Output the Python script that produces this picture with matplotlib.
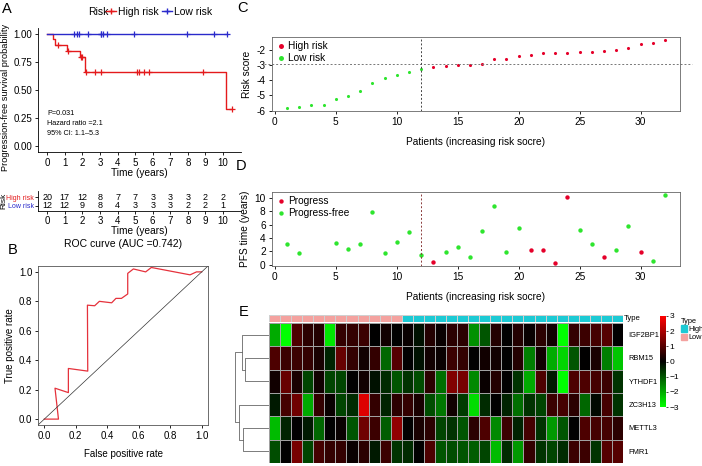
import numpy as np
import matplotlib
matplotlib.use('Agg')
import matplotlib.pyplot as plt
from matplotlib.colors import LinearSegmentedColormap, ListedColormap
from matplotlib.lines import Line2D
from matplotlib.patches import Patch

plt.rcParams['font.family'] = ['Liberation Sans', 'DejaVu Sans']
plt.rcParams['axes.linewidth'] = 0.6

W, H = 702, 466

# ---- data ----
patients = np.arange(1, 33)
n_low = 12
risk_score = [-5.80, -5.78, -5.62, -5.60, -5.25, -5.03, -4.68, -4.21, -3.82, -3.67, -3.49, -3.27,
              -3.16, -3.05, -3.01, -2.99, -2.94, -2.61, -2.61, -2.41, -2.35, -2.22, -2.22, -2.18,
              -2.15, -2.15, -2.07, -2.04, -1.91, -1.61, -1.58, -1.34]
risk_cut = -2.96
pfs_time = [3.05, 1.80, 9.50, 10.25, 3.20, 2.30, 3.05, 7.95, 1.70, 3.40, 4.95, 1.50,
            0.45, 1.95, 2.70, 1.20, 5.10, 8.85, 1.90, 5.50, 2.15, 2.15, 0.30, 10.20,
            5.20, 3.05, 1.15, 2.20, 5.80, 1.85, 0.60, 10.50]
status = [0, 0, 0, 0, 0, 0, 0, 0, 0, 0, 0, 0,
          1, 0, 0, 0, 0, 0, 0, 0, 1, 1, 1, 1,
          0, 0, 1, 0, 0, 1, 0, 0]

time_ticks = list(range(11))
at_risk_high = [20, 17, 12, 8, 7, 7, 3, 3, 3, 2, 2]
at_risk_low = [12, 12, 9, 8, 4, 3, 3, 3, 2, 2, 1]

roc_fpr = [0.0, 0.09, 0.068, 0.153, 0.153, 0.276, 0.274, 0.32, 0.35, 0.428, 0.455, 0.49,
           0.53, 0.53, 0.566, 0.644, 0.68, 0.926, 0.967, 1.0]
roc_tpr = [0.0, 0.0, 0.21, 0.18, 0.344, 0.326, 0.774, 0.77, 0.80, 0.79, 0.82, 0.82,
           0.85, 0.99, 1.02, 1.0, 1.03, 0.98, 1.0, 1.0]

genes = ['IGF2BP1', 'RBM15', 'YTHDF1', 'ZC3H13', 'METTL3', 'FMR1']
expr = [
    [-2.0, -3.0, 0.9, 0.5, 0.4, -2.7, 0.6, 0.6, 0.7, 0.0, 0.2, 0.0, 0.1, -0.2, 0.4, 0.1,
     0.5, 0.5, -1.7, -1.0, 0.4, 0.0, 0.4, 0.1, 0.5, 0.2, -3.0, 0.6, 0.7, 0.8, 1.0, 0.0],
    [0.9, 0.7, 0.7, 0.6, 0.3, -0.4, 1.2, 0.6, 0.2, 0.6, -1.2, 1.0, 0.0, -0.2, 0.2, 0.1,
     0.7, 0.6, 0.0, 0.2, 0.2, 0.0, 0.4, -1.5, 0.2, -2.0, -2.5, -1.0, 0.0, 0.3, -1.5, -2.3],
    [0.2, 1.2, 0.3, -0.8, 0.2, -0.8, -0.8, 0.0, 0.2, -0.2, -0.5, -1.0, -0.6, -0.9, 0.5, -1.3,
     1.5, 1.4, -1.6, 0.1, 0.4, 0.0, -0.6, -2.0, 0.9, -0.3, -3.0, 0.9, 0.9, 0.8, 0.7, -0.6],
    [-0.3, 0.8, 1.3, -2.0, 0.6, 0.1, -0.8, -0.5, 2.6, 0.6, -0.4, 0.5, 0.6, 0.3, -0.9, -1.4,
     0.2, -0.7, -2.6, -0.5, 0.0, -0.4, -1.3, -0.6, -0.8, 0.7, 0.8, 0.5, -1.2, -0.1, 0.8, -0.6],
    [-2.2, -0.4, 0.0, -0.3, -1.2, 0.0, 0.1, -1.0, 1.3, 0.7, -1.1, 1.7, 0.0, 0.3, 0.5, -0.8,
     -0.6, -1.0, 0.5, 0.9, -1.6, 0.7, -0.4, 0.8, -0.6, -1.8, -1.0, 0.0, 0.9, 0.8, 0.8, 0.5],
    [-0.9, 0.0, 1.4, -0.8, 0.8, 0.6, 0.6, 0.1, 0.5, -0.3, 0.7, -0.6, -0.5, 0.0, 0.9, -1.0,
     -0.9, -1.0, -1.1, -0.8, -2.2, -0.5, -1.8, 0.6, -0.6, -0.8, -0.5, 0.7, 0.7, -0.6, 1.0, 1.0],
]
# row dendrogram merges (left id, right id, height); new ids start at 6
row_links = [(1, 2, 2.3), (0, 6, 2.6), (4, 5, 2.55), (3, 8, 2.9), (7, 9, 3.35)]

red = '#E41A1C'
blue = '#2A2ACB'
pt_red = '#E5002A'
pt_green = '#2EE52E'
pink = '#F4A29F'
cyan = '#1CCAD4'

fig = plt.figure(figsize=(W / 100, H / 100), dpi=100)


def px_axes(l, t, r, b):
    return fig.add_axes([l / W, 1 - b / H, (r - l) / W, (b - t) / H])


def fy(y):
    return 1 - y / H


def km(times, events):
    times = np.asarray(times)
    events = np.asarray(events)
    ev_times = np.unique(times[events == 1])
    xs, ys, s = [0.0], [1.0], 1.0
    for u in ev_times:
        n = np.sum(times >= u)
        d = np.sum((times == u) & (events == 1))
        s *= 1 - d / n
        xs.append(u)
        ys.append(s)
    xs.append(times.max())
    ys.append(s)
    cens = times[events == 0]
    cens_s = [np.prod([1 - np.sum((times == u) & (events == 1)) / np.sum(times >= u)
                       for u in ev_times if u <= c]) for c in cens]
    return xs, ys, cens, cens_s


t_arr = np.array(pfs_time)
e_arr = np.array(status)
grp_low = np.arange(32) < n_low

# ---- A: Kaplan-Meier ----
axA = px_axes(38, 28, 241, 152)
for mask, col in [(~grp_low, red), (grp_low, blue)]:
    xs, ys, cx, cy = km(t_arr[mask], e_arr[mask])
    axA.step(xs, ys, where='post', color=col, lw=1.0)
    axA.plot(cx, cy, ls='none', marker='+', ms=4.5, mew=0.9, color=col)
axA.set_xlim(-0.525, 11.025)
axA.set_ylim(-0.05, 1.05)
axA.set_xticks(time_ticks)
axA.set_yticks([0, 0.25, 0.5, 0.75, 1.0])
axA.set_yticklabels(['0.00', '0.25', '0.50', '0.75', '1.00'])
axA.tick_params(labelsize=7, length=2.5, width=0.6, pad=1.5)
for sp in ['top', 'right']:
    axA.spines[sp].set_visible(False)
axA.set_xlabel('Time (years)', fontsize=7.3, labelpad=0)
fig.text(6 / W, fy(97), 'Progression-free survival probability', rotation=90,
         ha='center', va='center', fontsize=6.6)
axA.text(0, 0.29, 'P=0.031', fontsize=5.2, va='center')
axA.text(0, 0.2, 'Hazard ratio =2.1', fontsize=5.2, va='center')
axA.text(0, 0.11, '95% CI: 1.1\u20135.3', fontsize=5.2, va='center')
fig.text(88 / W, fy(12), 'Risk', fontsize=7.5, va='center')
handles = [Line2D([], [], color=red, lw=1, marker='+', ms=5),
           Line2D([], [], color=blue, lw=1, marker='+', ms=5)]
fig.legend(handles, ['High risk', 'Low risk'], ncol=2, loc='center left',
           bbox_to_anchor=(106 / W, fy(12)), frameon=False, fontsize=7.5,
           handlelength=1.0, handletextpad=0.15, columnspacing=0.3,
           borderpad=0, borderaxespad=0)

# risk table
axT = px_axes(38, 190.7, 241, 210.5)
for i, t in enumerate(time_ticks):
    axT.text(t, 1, str(at_risk_high[i]), ha='center', va='center', fontsize=6.5)
    axT.text(t, 0, str(at_risk_low[i]), ha='center', va='center', fontsize=6.5)
axT.set_xlim(-0.525, 11.025)
axT.set_ylim(-0.5, 1.7)
axT.set_xticks(time_ticks)
axT.set_yticks([1, 0])
axT.set_yticklabels(['High risk', 'Low risk'])
axT.get_yticklabels()[0].set_color(red)
axT.get_yticklabels()[1].set_color(blue)
axT.tick_params(axis='y', labelsize=5, length=2, width=0.6, pad=1)
axT.tick_params(axis='x', labelsize=7, length=2.5, width=0.6, pad=1.5)
for sp in ['top', 'right']:
    axT.spines[sp].set_visible(False)
axT.set_xlabel('Time (years)', fontsize=7.3, labelpad=0)
fig.text(4 / W, fy(201), 'Risk', rotation=90, ha='center', va='center', fontsize=6)

# ---- B: ROC ----
axB = px_axes(38, 266, 208, 425)
axB.plot(roc_fpr, roc_tpr, color='#E5323C', lw=0.9)
axB.axline((0, 0), (1, 1), color='#333333', lw=0.5)
axB.set_xlim(-0.04, 1.04)
axB.set_ylim(-0.04, 1.04)
axB.set_xticks([0, 0.2, 0.4, 0.6, 0.8, 1.0])
axB.set_yticks([0, 0.2, 0.4, 0.6, 0.8, 1.0])
axB.tick_params(labelsize=7, length=2.5, width=0.6, pad=1.5)
for sp in axB.spines.values():
    sp.set_color('#555555')
axB.set_title('ROC curve (AUC =0.742)', fontsize=7.5, pad=14)
axB.set_xlabel('False positive rate', fontsize=7, labelpad=6)
axB.set_ylabel('True positive rate', fontsize=7, labelpad=3)

# ---- C: risk score ----
axC = px_axes(272, 37, 680, 111)
axC.scatter(patients[grp_low], np.array(risk_score)[grp_low], s=5, color=pt_green, lw=0, label='Low risk')
axC.scatter(patients[~grp_low], np.array(risk_score)[~grp_low], s=5, color=pt_red, lw=0, label='High risk')
axC.axhline(risk_cut, xmin=-0.02, xmax=1.03, color='#777777', lw=0.7, ls=(0, (2, 2)), clip_on=False)
axC.axvline(n_low, color='#444444', lw=0.7, ls=(0, (2, 2)))
axC.set_xlim(-0.24, 33.24)
axC.set_ylim(-6.02, -1.16)
axC.set_xticks([0, 5, 10, 15, 20, 25, 30])
axC.set_yticks([-6, -5, -4, -3, -2])
axC.set_yticklabels(['-6', '-5', '-4', '-3', '-2'])
axC.tick_params(labelsize=7.3, length=2.5, width=0.6, pad=2)
for sp in axC.spines.values():
    sp.set_color('#666666')
axC.set_ylabel('Risk score', fontsize=7.3, labelpad=3)
axC.set_xlabel('Patients (increasing risk socre)', fontsize=7.3, labelpad=7)
h, l = axC.get_legend_handles_labels()
axC.legend(h[::-1], l[::-1], loc='upper left', frameon=False, fontsize=7.3,
           handletextpad=0.2, borderpad=0.3, labelspacing=0.15, handlelength=1.0,
           markerscale=1.6, borderaxespad=0.1)

# ---- D: PFS time ----
axD = px_axes(272, 192, 680, 266)
ev = e_arr == 1
axD.scatter(patients[ev], t_arr[ev], s=10, color=pt_red, lw=0, label='Progress')
axD.scatter(patients[~ev], t_arr[~ev], s=10, color=pt_green, lw=0, label='Progress-free')
axD.axvline(n_low, color='#8a3a3a', lw=0.7, ls=(0, (2, 2)))
axD.set_xlim(-0.24, 33.24)
axD.set_ylim(-0.21, 10.91)
axD.set_xticks([0, 5, 10, 15, 20, 25, 30])
axD.set_yticks([0, 2, 4, 6, 8, 10])
axD.tick_params(labelsize=7.3, length=2.5, width=0.6, pad=2)
for sp in axD.spines.values():
    sp.set_color('#666666')
axD.set_ylabel('PFS time (years)', fontsize=7.3, labelpad=3)
axD.set_xlabel('Patients (increasing risk socre)', fontsize=7.3, labelpad=7)
legD = axD.legend(loc='upper left', frameon=True, fontsize=7.3, handletextpad=0.2,
                  borderpad=0.3, labelspacing=0.15, handlelength=1.0, borderaxespad=0.1,
                  fancybox=False)
legD.get_frame().set_edgecolor('none')
legD.get_frame().set_facecolor('white')
legD.get_frame().set_alpha(1)

# ---- E: heatmap ----
cmap = LinearSegmentedColormap.from_list('gbr', ['#00FF00', '#000000', '#FF0000'])
axH = px_axes(269, 323, 623, 463)
mesh = axH.pcolormesh(np.array(expr), cmap=cmap, vmin=-3, vmax=3,
                      edgecolors='#a0a0a0', linewidth=0.5)
axH.set_ylim(len(genes), 0)
axH.set_xlim(0, 32)
axH.set_yticks(np.arange(len(genes)) + 0.5)
axH.set_yticklabels(genes)
axH.set_xticks([])
axH.tick_params(axis='y', left=False, right=False, labelleft=False, labelright=True,
                labelsize=5.4, pad=0.5)
for sp in axH.spines.values():
    sp.set_visible(False)

axN = px_axes(269, 315, 623, 322)
group_code = np.where(grp_low, 0, 1)[None, :]
axN.pcolormesh(group_code, cmap=ListedColormap([pink, cyan]), vmin=0, vmax=1,
               edgecolors='#d0d0d0', linewidth=0.4)
axN.set_xlim(0, 32)
axN.set_xticks([])
axN.set_yticks([])
for sp in axN.spines.values():
    sp.set_visible(False)
fig.text(624 / W, fy(319), 'Type', fontsize=5.6, va='center')

# dendrogram
axR = px_axes(233, 323, 269, 463)
pos = {i: (i + 0.5, 0.0) for i in range(len(genes))}
nid = len(genes)
for a, b, hgt in row_links:
    ya, ha = pos[a]
    yb, hb = pos[b]
    axR.plot([ha, hgt, hgt, hb], [ya, ya, yb, yb], color='#666666', lw=0.6)
    pos[nid] = ((ya + yb) / 2, hgt)
    nid += 1
axR.set_xlim(3.5, 0)
axR.set_ylim(len(genes), 0)
axR.axis('off')

axCB = px_axes(660, 316, 666, 407)
cb = fig.colorbar(mesh, cax=axCB, ticks=[3, 2, 1, 0, -1, -2, -3])
cb.outline.set_visible(False)
axCB.tick_params(labelsize=6, length=1.5, width=0.5, pad=1)

fig.legend(handles=[Patch(color=cyan, label='High'), Patch(color=pink, label='Low')],
           title='Type', loc='upper left', bbox_to_anchor=(677 / W, fy(314)),
           frameon=False, fontsize=5.3, title_fontsize=5.3, handlelength=0.9,
           handleheight=0.9, handletextpad=0.15, labelspacing=0.1, borderpad=0,
           alignment='left')

# panel letters
for letter, x, y in [('A', 2, 9), ('B', 8, 250), ('C', 237, 8), ('D', 236, 166), ('E', 239, 312)]:
    fig.text(x / W, fy(y), letter, fontsize=10.5, va='center')

fig.savefig('out.png', dpi=100, facecolor='white')
